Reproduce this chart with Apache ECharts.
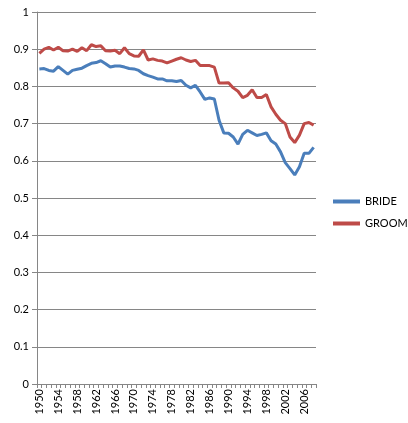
<!DOCTYPE html>
<html>
<head>
<meta charset="utf-8">
<script src="https://cdn.jsdelivr.net/npm/echarts@6/dist/echarts.min.js"></script>
<style>
  html, body { margin: 0; padding: 0; background: #ffffff; }
  #chart { width: 408px; height: 423px; }
</style>
</head>
<body>
<div id="chart"></div>
<script>
var years = ['1950', '1951', '1952', '1953', '1954', '1955', '1956', '1957', '1958', '1959',
    '1960', '1961', '1962', '1963', '1964', '1965', '1966', '1967', '1968', '1969',
    '1970', '1971', '1972', '1973', '1974', '1975', '1976', '1977', '1978', '1979',
    '1980', '1981', '1982', '1983', '1984', '1985', '1986', '1987', '1988', '1989',
    '1990', '1991', '1992', '1993', '1994', '1995', '1996', '1997', '1998', '1999',
    '2000', '2001', '2002', '2003', '2004', '2005', '2006', '2007', '2008'];

var bride = [0.847, 0.848, 0.843, 0.841, 0.853, 0.843, 0.833, 0.843, 0.846, 0.849,
    0.856, 0.862, 0.864, 0.869, 0.861, 0.852, 0.855, 0.855, 0.852, 0.848,
    0.847, 0.843, 0.834, 0.829, 0.825, 0.820, 0.820, 0.815, 0.815, 0.813,
    0.816, 0.803, 0.796, 0.803, 0.785, 0.765, 0.769, 0.766, 0.709, 0.675,
    0.674, 0.664, 0.645, 0.671, 0.682, 0.675, 0.668, 0.671, 0.675, 0.654,
    0.645, 0.624, 0.595, 0.579, 0.562, 0.584, 0.620, 0.620, 0.636];

var groom = [0.889, 0.900, 0.905, 0.898, 0.905, 0.896, 0.895, 0.900, 0.894, 0.904,
    0.896, 0.912, 0.907, 0.909, 0.896, 0.895, 0.897, 0.888, 0.904, 0.888,
    0.882, 0.881, 0.898, 0.871, 0.874, 0.870, 0.868, 0.863, 0.868, 0.873,
    0.877, 0.871, 0.867, 0.870, 0.856, 0.856, 0.856, 0.852, 0.809, 0.809,
    0.810, 0.796, 0.787, 0.770, 0.776, 0.791, 0.770, 0.770, 0.778, 0.745,
    0.725, 0.709, 0.700, 0.664, 0.649, 0.669, 0.700, 0.703, 0.696];

var seriesNames = ['BRIDE', 'GROOM'];

var myChart = echarts.init(document.getElementById('chart'));
var option = {
    animation: false,
    textStyle: { fontFamily: 'Lato' },
    grid: { left: 37, right: 92, top: 12, bottom: 39, containLabel: false },
    legend: {
        orient: 'vertical',
        left: 333,
        top: 196,
        padding: 0,
        icon: 'rect',
        itemWidth: 27,
        itemHeight: 4,
        itemGap: 11,
        textStyle: { fontSize: 11, color: '#000000', fontFamily: 'Lato' },
        data: seriesNames
    },
    xAxis: {
        type: 'category',
        data: years,
        boundaryGap: true,
        axisLine: { lineStyle: { color: '#868686', width: 1 } },
        axisTick: { show: true, interval: 0, length: 4, lineStyle: { color: '#868686' } },
        axisLabel: { interval: 3, rotate: 90, margin: 5, fontSize: 11, color: '#000000', fontFamily: 'Lato' },
        splitLine: { show: false }
    },
    yAxis: {
        type: 'value',
        min: 0,
        max: 1,
        interval: 0.1,
        axisLine: { show: true, lineStyle: { color: '#868686', width: 1 } },
        axisTick: { show: true, length: 5, lineStyle: { color: '#868686' } },
        axisLabel: { margin: 8, fontSize: 11, color: '#000000', fontFamily: 'Lato' },
        splitLine: { show: true, lineStyle: { color: '#868686', width: 1 } }
    },
    series: [
        {
            name: 'BRIDE',
            type: 'line',
            data: bride,
            showSymbol: false,
            symbol: 'none',
            itemStyle: { color: '#4a7ebb' },
            lineStyle: { color: '#4a7ebb', width: 3 }
        },
        {
            name: 'GROOM',
            type: 'line',
            data: groom,
            showSymbol: false,
            symbol: 'none',
            itemStyle: { color: '#be4b48' },
            lineStyle: { color: '#be4b48', width: 3 }
        }
    ]
};
myChart.setOption(option);
</script>
</body>
</html>
